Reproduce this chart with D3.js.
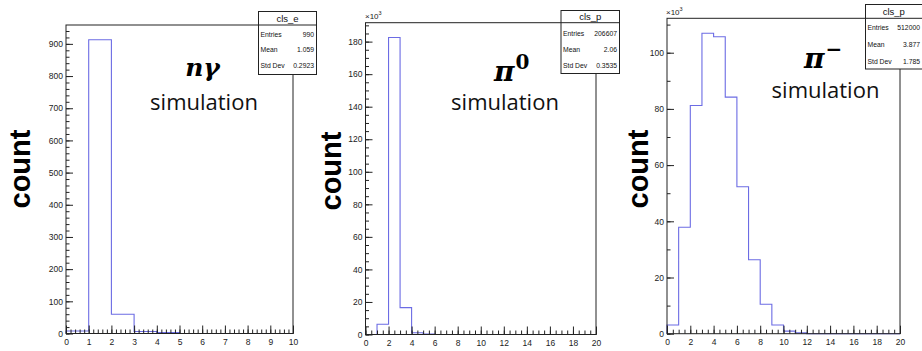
<!DOCTYPE html>
<html><head><meta charset="utf-8">
<script src="https://cdn.jsdelivr.net/npm/d3@7"></script>
<style>
body{margin:0;background:#fff;}
svg{display:block;}
</style></head>
<body>
<svg id="c" width="922" height="351"></svg>
<script>
// ---- data (counts per unit-width bin; pi0 and pi- in units of 10^3) ----
const countsNGamma  = [8, 913, 60, 6, 3, 0, 0, 0, 0, 0];
const countsPi0     = [0, 6.3, 182.5, 16.5, 1.1, 0.2, 0, 0, 0, 0, 0, 0, 0, 0, 0, 0, 0, 0, 0, 0];
const countsPiMinus = [3.1, 37.9, 81.2, 106.9, 105.7, 84.2, 52.3, 26.3, 10.5, 3.1, 0.9, 0.3, 0, 0, 0, 0, 0, 0, 0, 0];
const xMax = [10, 20, 20];
const xTicksNGamma = [0,1,2,3,4,5,6,7,8,9,10];
const xTicksPi = [0,2,4,6,8,10,12,14,16,18,20];
const yTicksNGamma = [0,100,200,300,400,500,600,700,800,900];
const yTicksPi0 = [0,20,40,60,80,100,120,140,160,180];
const yTicksPiMinus = [0,20,40,60,80,100];
const statName = ["cls_e", "cls_p", "cls_p"];
const statEntries = ["990", "206607", "512000"];
const statMean = ["1.059", "2.06", "3.877"];
const statStd = ["0.2923", "0.3535", "1.785"];
const titleMain = ["nγ", "π", "π"];
const titleSup = ["", "0", "−"];
const subtitle = ["simulation", "simulation", "simulation"];
const yLabel = "count";
const expLabel = ["", "×10", "×10"];

// ---- layout ----
const svg = d3.select("#c");
const histColor = "#6c6ce4";
const frameColor = "#222";
const panels = [
  {counts: countsNGamma, xt: xTicksNGamma, xMinorStep: 0.2, yt: yTicksNGamma, yMinorStep: 20,
   fx0: 66, fx1: 293, fy0: 25, fy1: 333.5,
   box: {x0: 258.5, x1: 316.5, y0: 11.5, y1: 74.5, yh: 25, rows: [36.5, 52, 67.5]},
   title: {x: 202.5, y: 76, size: 25, anchor: "middle"}, sub: {x: 204, y: 110},
   count: {x: 30, y: 169}},
  {counts: countsPi0, xt: xTicksPi, xMinorStep: 0.5, yt: yTicksPi0, yMinorStep: 5,
   fx0: 365.5, fx1: 596, fy0: 22.7, fy1: 334.5,
   box: {x0: 561, x1: 619.5, y0: 10.5, y1: 73.5, yh: 22.7, rows: [35.5, 51.5, 67.5]},
   title: {x: 494, y: 81, size: 28, anchor: "start"}, sub: {x: 505, y: 110},
   count: {x: 341, y: 171}, exp: {x: 365, y: 19}},
  {counts: countsPiMinus, xt: xTicksPi, xMinorStep: 0.5, yt: yTicksPiMinus, yMinorStep: 10,
   fx0: 667, fx1: 900, fy0: 18.3, fy1: 333.7,
   box: {x0: 865.5, x1: 926, y0: 4.5, y1: 69, yh: 18.3, rows: [29.5, 46.5, 63.5]},
   title: {x: 804, y: 68, size: 28, anchor: "start"}, sub: {x: 825.5, y: 98},
   count: {x: 648, y: 169}, exp: {x: 666, y: 15}}
];

panels.forEach((p, i) => {
  const g = svg.append("g");
  const x = d3.scaleLinear().domain([0, xMax[i]]).range([p.fx0, p.fx1]);
  const y = d3.scaleLinear().domain([0, d3.max(p.counts) * 1.05]).range([p.fy1, p.fy0]);

  // histogram step outline
  let d = `M${x(0)},${y(0)}`;
  p.counts.forEach((v, k) => { d += `V${y(v)}H${x(k + 1)}`; });
  d += `V${y(0)}`;
  g.append("path").attr("d", d).attr("fill", "none")
    .attr("stroke", histColor).attr("stroke-width", 1.1);

  // frame
  g.append("rect").attr("x", p.fx0).attr("y", p.fy0)
    .attr("width", p.fx1 - p.fx0).attr("height", p.fy1 - p.fy0)
    .attr("fill", "none").attr("stroke", frameColor).attr("stroke-width", 1);

  // x axis (ticks inside, pointing up)
  const xMinor = d3.range(0, xMax[i] + 1e-9, p.xMinorStep);
  const xa = g.append("g").attr("transform", `translate(0,${p.fy1})`)
    .call(d3.axisBottom(x).tickValues(xMinor).tickSize(-4).tickFormat(""));
  xa.select(".domain").remove();
  const xb = g.append("g").attr("transform", `translate(0,${p.fy1})`)
    .call(d3.axisBottom(x).tickValues(p.xt).tickSize(-8).tickPadding(5).tickFormat(d3.format("d")));
  xb.select(".domain").remove();
  xb.selectAll("text").attr("font-family", "Liberation Sans, Arial, sans-serif")
    .attr("font-size", 8.5).attr("fill", "#222");

  // y axis (ticks inside, pointing right)
  const yMinor = d3.range(0, y.domain()[1], p.yMinorStep);
  const ya = g.append("g").attr("transform", `translate(${p.fx0},0)`)
    .call(d3.axisLeft(y).tickValues(yMinor).tickSize(-3.5).tickFormat(""));
  ya.select(".domain").remove();
  const yb = g.append("g").attr("transform", `translate(${p.fx0},0)`)
    .call(d3.axisLeft(y).tickValues(p.yt).tickSize(-7).tickPadding(3).tickFormat(d3.format("d")));
  yb.select(".domain").remove();
  yb.selectAll("text").attr("font-family", "Liberation Sans, Arial, sans-serif")
    .attr("font-size", 8.5).attr("fill", "#222");
  g.selectAll(".tick line").attr("stroke", frameColor);

  // exponent label
  if (p.exp) {
    const t = g.append("text").attr("x", p.exp.x).attr("y", p.exp.y)
      .attr("font-family", "Liberation Sans, Arial, sans-serif").attr("font-size", 8).attr("fill", "#222");
    t.append("tspan").text(expLabel[i]);
    t.append("tspan").attr("dy", -4).attr("font-size", 5.5).text("3");
  }

  // stats box
  const b = p.box;
  g.append("rect").attr("x", b.x0).attr("y", b.y0).attr("width", b.x1 - b.x0).attr("height", b.y1 - b.y0)
    .attr("fill", "#fff").attr("stroke", frameColor).attr("stroke-width", 1);
  g.append("line").attr("x1", b.x0).attr("x2", b.x1).attr("y1", b.yh).attr("y2", b.yh)
    .attr("stroke", frameColor).attr("stroke-width", 1);
  const boxRight = Math.min(b.x1 - 2.5, 920);
  g.append("text").attr("x", (b.x0 + Math.min(b.x1, 922)) / 2).attr("y", (b.y0 + b.yh) / 2 + 3.4)
    .attr("text-anchor", "middle").attr("font-family", "Liberation Sans, Arial, sans-serif")
    .attr("font-size", 9.5).attr("fill", "#111").text(statName[i]);
  const labels = ["Entries", "Mean", "Std Dev"];
  const vals = [statEntries[i], statMean[i], statStd[i]];
  labels.forEach((lab, k) => {
    g.append("text").attr("x", b.x0 + 2).attr("y", b.rows[k])
      .attr("font-family", "Liberation Sans, Arial, sans-serif").attr("font-size", 6.8).attr("fill", "#111").text(lab);
    g.append("text").attr("x", boxRight).attr("y", b.rows[k]).attr("text-anchor", "end")
      .attr("font-family", "Liberation Sans, Arial, sans-serif").attr("font-size", 6.8).attr("fill", "#111").text(vals[k]);
  });

  // title
  const tt = g.append("text").attr("x", p.title.x).attr("y", p.title.y).attr("text-anchor", p.title.anchor)
    .attr("font-family", "DejaVu Serif, serif").attr("font-weight", "bold").attr("font-style", "italic")
    .attr("font-size", p.title.size).attr("fill", "#000");
  tt.append("tspan").text(titleMain[i]);
  if (titleSup[i]) {
    tt.append("tspan").attr("dy", -12).attr("dx", 1).attr("font-style", "normal").attr("font-size", 20).text(titleSup[i]);
  }
  g.append("text").attr("x", p.sub.x).attr("y", p.sub.y).attr("text-anchor", "middle")
    .attr("font-family", "Open Sans, sans-serif").attr("font-size", 22).attr("fill", "#111").text(subtitle[i]);

  // y label
  g.append("text").attr("transform", `translate(${p.count.x},${p.count.y}) rotate(-90)`)
    .attr("text-anchor", "middle").attr("font-family", "Liberation Sans, Arial, sans-serif")
    .attr("font-weight", "bold").attr("font-size", 29).attr("fill", "#000").text(yLabel);
});
</script>
</body></html>
